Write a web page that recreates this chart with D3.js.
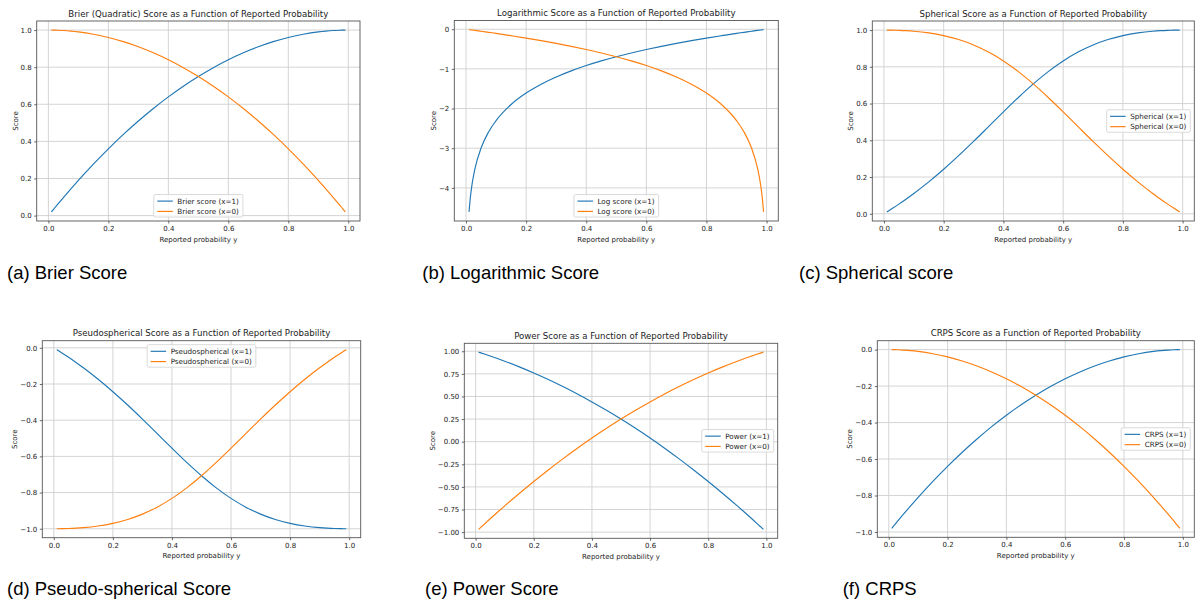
<!DOCTYPE html>
<html>
<head>
<meta charset="utf-8">
<script src="https://cdn.jsdelivr.net/npm/d3@7"></script>
<style>
  body { margin: 0; background: #fff; }
  svg { display: block; }
</style>
</head>
<body>
<svg id="fig" width="1196" height="604"></svg>
<script>
// reported probability y (shared x samples)
const xs = [0.01, 0.015, 0.02, 0.03, 0.05, 0.075, 0.1, 0.15, 0.2, 0.25, 0.3, 0.35, 0.4, 0.45, 0.5,
  0.55, 0.6, 0.65, 0.7, 0.75, 0.8, 0.85, 0.9, 0.925, 0.95, 0.97, 0.98, 0.985, 0.99];

const brierX1 = [0.0199, 0.0298, 0.0396, 0.0591, 0.0975, 0.1444, 0.19, 0.2775, 0.36, 0.4375, 0.51, 0.5775, 0.64, 0.6975, 0.75,
  0.7975, 0.84, 0.8775, 0.91, 0.9375, 0.96, 0.9775, 0.99, 0.9944, 0.9975, 0.9991, 0.9996, 0.9998, 0.9999];
const brierX0 = [0.9999, 0.9998, 0.9996, 0.9991, 0.9975, 0.9944, 0.99, 0.9775, 0.96, 0.9375, 0.91, 0.8775, 0.84, 0.7975, 0.75,
  0.6975, 0.64, 0.5775, 0.51, 0.4375, 0.36, 0.2775, 0.19, 0.1444, 0.0975, 0.0591, 0.0396, 0.0298, 0.0199];

const logX1 = [-4.605, -4.200, -3.912, -3.507, -2.996, -2.590, -2.303, -1.897, -1.609, -1.386, -1.204, -1.050, -0.916, -0.799, -0.693,
  -0.598, -0.511, -0.431, -0.357, -0.288, -0.223, -0.163, -0.105, -0.078, -0.051, -0.030, -0.020, -0.015, -0.010];
const logX0 = [-0.010, -0.015, -0.020, -0.030, -0.051, -0.078, -0.105, -0.163, -0.223, -0.288, -0.357, -0.431, -0.511, -0.598, -0.693,
  -0.799, -0.916, -1.050, -1.204, -1.386, -1.609, -1.897, -2.303, -2.590, -2.996, -3.507, -3.912, -4.200, -4.605];

const sphX1 = [0.0101, 0.0152, 0.0204, 0.0309, 0.0526, 0.0808, 0.1104, 0.1738, 0.2425, 0.3162, 0.3939, 0.4741, 0.5547, 0.6332, 0.7071,
  0.7740, 0.8321, 0.8805, 0.9191, 0.9487, 0.9701, 0.9848, 0.9939, 0.9967, 0.9986, 0.9995, 0.9998, 0.9999, 0.99995];
const sphX0 = [0.99995, 0.9999, 0.9998, 0.9995, 0.9986, 0.9967, 0.9939, 0.9848, 0.9701, 0.9487, 0.9191, 0.8805, 0.8321, 0.7740, 0.7071,
  0.6332, 0.5547, 0.4741, 0.3939, 0.3162, 0.2425, 0.1738, 0.1104, 0.0808, 0.0526, 0.0309, 0.0204, 0.0152, 0.0101];

const pseudoX1 = [-0.0101, -0.0152, -0.0204, -0.0309, -0.0526, -0.0808, -0.1104, -0.1738, -0.2425, -0.3162, -0.3939, -0.4741, -0.5547, -0.6332, -0.7071,
  -0.7740, -0.8321, -0.8805, -0.9191, -0.9487, -0.9701, -0.9848, -0.9939, -0.9967, -0.9986, -0.9995, -0.9998, -0.9999, -0.99995];
const pseudoX0 = [-0.99995, -0.9999, -0.9998, -0.9995, -0.9986, -0.9967, -0.9939, -0.9848, -0.9701, -0.9487, -0.9191, -0.8805, -0.8321, -0.7740, -0.7071,
  -0.6332, -0.5547, -0.4741, -0.3939, -0.3162, -0.2425, -0.1738, -0.1104, -0.0808, -0.0526, -0.0309, -0.0204, -0.0152, -0.0101];

const powerX1 = [0.9899, 0.9848, 0.9796, 0.9691, 0.9475, 0.9194, 0.89, 0.8275, 0.76, 0.6875, 0.61, 0.5275, 0.44, 0.3475, 0.25,
  0.1475, 0.04, -0.0725, -0.19, -0.3125, -0.44, -0.5725, -0.71, -0.7806, -0.8525, -0.9109, -0.9404, -0.9552, -0.9701];
const powerX0 = [-0.9701, -0.9552, -0.9404, -0.9109, -0.8525, -0.7806, -0.71, -0.5725, -0.44, -0.3125, -0.19, -0.0725, 0.04, 0.1475, 0.25,
  0.3475, 0.44, 0.5275, 0.61, 0.6875, 0.76, 0.8275, 0.89, 0.9194, 0.9475, 0.9691, 0.9796, 0.9848, 0.9899];

const crpsX1 = [-0.9801, -0.9702, -0.9604, -0.9409, -0.9025, -0.8556, -0.81, -0.7225, -0.64, -0.5625, -0.49, -0.4225, -0.36, -0.3025, -0.25,
  -0.2025, -0.16, -0.1225, -0.09, -0.0625, -0.04, -0.0225, -0.01, -0.0056, -0.0025, -0.0009, -0.0004, -0.0002, -0.0001];
const crpsX0 = [-0.0001, -0.0002, -0.0004, -0.0009, -0.0025, -0.0056, -0.01, -0.0225, -0.04, -0.0625, -0.09, -0.1225, -0.16, -0.2025, -0.25,
  -0.3025, -0.36, -0.4225, -0.49, -0.5625, -0.64, -0.7225, -0.81, -0.8556, -0.9025, -0.9409, -0.9604, -0.9702, -0.9801];

// tick values
const xTicks = [0, 0.2, 0.4, 0.6, 0.8, 1.0];
const yTicksUnit = [0, 0.2, 0.4, 0.6, 0.8, 1.0];
const yTicksLog = [-4, -3, -2, -1, 0];
const yTicksNeg = [-1.0, -0.8, -0.6, -0.4, -0.2, 0.0];
const yTicksPower = [-1.0, -0.75, -0.5, -0.25, 0, 0.25, 0.5, 0.75, 1.0];

const titles = [
  "Brier (Quadratic) Score as a Function of Reported Probability",
  "Logarithmic Score as a Function of Reported Probability",
  "Spherical Score as a Function of Reported Probability",
  "Pseudospherical Score as a Function of Reported Probability",
  "Power Score as a Function of Reported Probability",
  "CRPS Score as a Function of Reported Probability"
];
const legendNames = [
  ["Brier score (x=1)", "Brier score (x=0)"],
  ["Log score (x=1)", "Log score (x=0)"],
  ["Spherical (x=1)", "Spherical (x=0)"],
  ["Pseudospherical (x=1)", "Pseudospherical (x=0)"],
  ["Power (x=1)", "Power (x=0)"],
  ["CRPS (x=1)", "CRPS (x=0)"]
];
const captions = ["(a) Brier Score", "(b) Logarithmic Score", "(c) Spherical score",
  "(d) Pseudo-spherical Score", "(e) Power Score", "(f) CRPS"];

const colors = ["#1f77b4", "#ff7f0e"];
const mplFont = "'DejaVu Sans', sans-serif";

const panels = [
  {s: [brierX1, brierX0], yt: yTicksUnit, fmt: ".1f", loc: "lower center",
   box: {l: 36.7, r: 360, t: 21, b: 221}, cap: {x: 7, y: 279}},
  {s: [logX1, logX0], yt: yTicksLog, fmt: "d", loc: "lower center",
   box: {l: 454.3, r: 778.3, t: 20.5, b: 221}, cap: {x: 422.3, y: 279}},
  {s: [sphX1, sphX0], yt: yTicksUnit, fmt: ".1f", loc: "center right",
   box: {l: 872.3, r: 1194.3, t: 21, b: 221}, cap: {x: 799, y: 279}},
  {s: [pseudoX1, pseudoX0], yt: yTicksNeg, fmt: ".1f", loc: "upper center",
   box: {l: 42.3, r: 360.7, t: 340.7, b: 537.7}, cap: {x: 7, y: 594.5}},
  {s: [powerX1, powerX0], yt: yTicksPower, fmt: ".2f", loc: "center right",
   box: {l: 464.3, r: 777.7, t: 343.3, b: 538.3}, cap: {x: 425, y: 594.5}},
  {s: [crpsX1, crpsX0], yt: yTicksNeg, fmt: ".1f", loc: "center right",
   box: {l: 877.3, r: 1194.3, t: 340.7, b: 537.3}, cap: {x: 842.7, y: 594.5}}
];

const svg = d3.select("#fig");

function padDomain(vals) {
  const [lo, hi] = d3.extent(vals);
  const m = (hi - lo) * 0.05;
  return [lo - m, hi + m];
}

function drawPanel(p, k) {
  const box = p.box;
  const g = svg.append("g");
  const x = d3.scaleLinear().domain(padDomain(xs)).range([box.l, box.r]);
  const y = d3.scaleLinear().domain(padDomain(p.s[0].concat(p.s[1]))).range([box.b, box.t]);

  // grid
  g.append("g").selectAll("line").data(xTicks).join("line")
    .attr("x1", d => x(d)).attr("x2", d => x(d))
    .attr("y1", box.t).attr("y2", box.b)
    .attr("stroke", "#cfcfcf").attr("stroke-width", 0.9);
  g.append("g").selectAll("line").data(p.yt).join("line")
    .attr("x1", box.l).attr("x2", box.r)
    .attr("y1", d => y(d)).attr("y2", d => y(d))
    .attr("stroke", "#cfcfcf").attr("stroke-width", 0.9);

  // curves
  const line = d3.line()
    .x((d, i) => x(xs[i]))
    .y(d => y(d))
    .curve(d3.curveMonotoneX);
  p.s.forEach((ser, j) => {
    g.append("path").datum(ser)
      .attr("d", line)
      .attr("fill", "none")
      .attr("stroke", colors[j])
      .attr("stroke-width", 1.15);
  });

  // spines
  g.append("rect")
    .attr("x", box.l).attr("y", box.t)
    .attr("width", box.r - box.l).attr("height", box.b - box.t)
    .attr("fill", "none").attr("stroke", "#555").attr("stroke-width", 0.9);

  // axes
  const xa = g.append("g").attr("transform", `translate(0,${box.b})`)
    .call(d3.axisBottom(x).tickValues(xTicks).tickFormat(d3.format(".1f")).tickSize(2.5).tickPadding(2.5));
  const ya = g.append("g").attr("transform", `translate(${box.l},0)`)
    .call(d3.axisLeft(y).tickValues(p.yt).tickFormat(d3.format(p.fmt)).tickSize(2.5).tickPadding(2.5));
  [xa, ya].forEach(a => {
    a.select(".domain").remove();
    a.attr("font-family", mplFont).attr("font-size", 7);
    a.selectAll("line").attr("stroke", "#444").attr("stroke-width", 0.8);
    a.selectAll("text").attr("fill", "#222");
  });
  const maxW = d3.max(ya.selectAll("text").nodes(), n => n.getComputedTextLength());

  // titles and labels
  g.append("text")
    .attr("x", (box.l + box.r) / 2).attr("y", box.t - 4.5)
    .attr("text-anchor", "middle")
    .attr("font-family", mplFont).attr("font-size", 8.6).attr("fill", "#222")
    .text(titles[k]);
  g.append("text")
    .attr("x", (box.l + box.r) / 2).attr("y", box.b + 20.5)
    .attr("text-anchor", "middle")
    .attr("font-family", mplFont).attr("font-size", 7).attr("fill", "#222")
    .text("Reported probability y");
  const lx = box.l - 5 - maxW - 5.3;
  const ly = (box.t + box.b) / 2;
  g.append("text")
    .attr("transform", `translate(${lx},${ly}) rotate(-90)`)
    .attr("text-anchor", "middle").attr("dy", "0.35em")
    .attr("font-family", mplFont).attr("font-size", 7).attr("fill", "#222")
    .text("Score");

  // legend
  const lg = g.append("g");
  const frame = lg.append("rect");
  const texts = lg.selectAll("text.lab").data(legendNames[k]).join("text")
    .attr("class", "lab")
    .attr("font-family", mplFont).attr("font-size", 7.2).attr("fill", "#222")
    .text(d => d);
  const tw = d3.max(texts.nodes(), n => n.getComputedTextLength());
  const w = 23.5 + tw + 4, h = 22.5;
  let bl, bt;
  if (p.loc === "lower center") { bl = (box.l + box.r) / 2 - w / 2; bt = box.b - 4 - h; }
  else if (p.loc === "upper center") { bl = (box.l + box.r) / 2 - w / 2; bt = box.t + 4; }
  else { bl = box.r - 4 - w; bt = (box.t + box.b) / 2 - h / 2; }
  frame.attr("x", bl).attr("y", bt).attr("width", w).attr("height", h)
    .attr("rx", 1.5).attr("fill", "#fff").attr("fill-opacity", 0.8)
    .attr("stroke", "#d0d0d0").attr("stroke-width", 0.8);
  texts.attr("x", bl + 23.5).attr("y", (d, i) => bt + 6.6 + i * 10.3).attr("dy", "0.35em");
  lg.selectAll("line").data(legendNames[k]).join("line")
    .attr("x1", bl + 3.5).attr("x2", bl + 19)
    .attr("y1", (d, i) => bt + 6.6 + i * 10.3).attr("y2", (d, i) => bt + 6.6 + i * 10.3)
    .attr("stroke", (d, i) => colors[i]).attr("stroke-width", 1.15);

  // sub-figure caption
  svg.append("text")
    .attr("x", p.cap.x).attr("y", p.cap.y)
    .attr("font-family", "'Liberation Sans', Arial, sans-serif")
    .attr("font-size", 18.5).attr("fill", "#000")
    .text(captions[k]);
}

panels.forEach(drawPanel);
</script>
</body>
</html>
